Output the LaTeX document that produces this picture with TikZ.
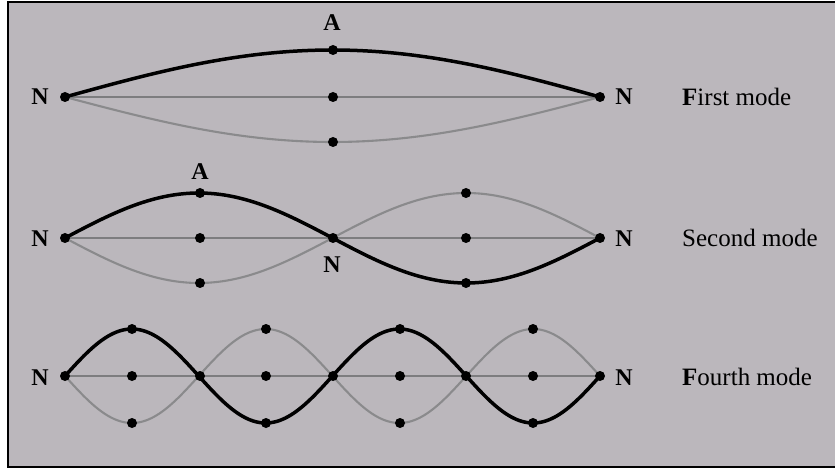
\documentclass[tikz,border=0pt]{standalone}
\usepackage{fontspec}
\setmainfont{Liberation Serif}
\usetikzlibrary{calc}
\definecolor{panel}{RGB}{187,183,188}
\definecolor{stringgrey}{RGB}{138,138,140}
\definecolor{axisgrey}{RGB}{125,125,127}

\begin{document}
\begin{tikzpicture}[x=1pt,y=-1pt,
    wave/.style={line width=3.5pt,black},
    echo/.style={line width=2.1pt,draw=stringgrey},
    axis/.style={line width=1.4pt,draw=axisgrey},
    dot/.style={circle,fill=black,inner sep=0pt,minimum size=10pt},
    lbl/.style={font=\fontsize{24}{26}\selectfont\bfseries,anchor=base,inner sep=0pt},
    modetext/.style={font=\fontsize{25}{27}\selectfont,anchor=base west,inner sep=0pt}]
    \useasboundingbox (0,0) rectangle (835,470);
    \begin{scope}
    \clip (0,0) rectangle (835,470);
    \draw[fill=panel,line width=2pt] (8,2) rectangle (845,467);
    \end{scope}
    % first mode
    \draw[axis] (65,97) -- (600,97);
    \draw[echo] plot[domain=65:600,samples=90] (\x,{97+45*sin((\x-65)/535*180)});
    \draw[wave] plot[domain=65:600,samples=90] (\x,{97-47*sin((\x-65)/535*180)});
    \foreach \x/\y [count=\i] in {65/97,333/50,333/97,333/142,600/97}
        \node[dot] (one\i) at (\x,\y) {};
    \node[lbl] (oneNl) at (40,105) {N};
    \node[lbl] (oneNr) at (624,105) {N};
    \node[lbl] (oneA) at (332,31) {A};
    \node[modetext] (oneT) at (682,105.5) {\textbf{F}irst mode};
    % second mode
    \draw[axis] (65,238) -- (600,238);
    \draw[echo] plot[domain=65:600,samples=120] (\x,{238+45*sin((\x-65)/535*360)});
    \draw[wave] plot[domain=65:600,samples=120] (\x,{238-45*sin((\x-65)/535*360)});
    \foreach \x/\y [count=\i] in {65/238,200/193,200/238,200/283,333/238,466/193,466/238,466/283,600/238}
        \node[dot] (two\i) at (\x,\y) {};
    \node[lbl] (twoNl) at (40,247) {N};
    \node[lbl] (twoNr) at (624,247) {N};
    \node[lbl] (twoNm) at (332,272.5) {N};
    \node[lbl] (twoA) at (200,180) {A};
    \node[modetext] (twoT) at (682,247) {Second mode};
    % fourth mode
    \draw[axis] (65,376) -- (600,376);
    \draw[echo] plot[domain=65:600,samples=200] (\x,{376+47*sin((\x-65)/535*720)});
    \draw[wave] plot[domain=65:600,samples=200] (\x,{376-47*sin((\x-65)/535*720)});
    \foreach \x in {65,200,333,466,600}
        \node[dot] (four\x) at (\x,376) {};
    \foreach \x in {132,266,400,533}{
        \node[dot] (fourU\x) at (\x,329) {};
        \node[dot] (fourM\x) at (\x,376) {};
        \node[dot] (fourD\x) at (\x,423) {};
    }
    \node[lbl] (fourNl) at (40,385) {N};
    \node[lbl] (fourNr) at (624,385) {N};
    \node[modetext] (fourT) at (682,385) {\textbf{F}ourth mode};
\end{tikzpicture}
\end{document}
